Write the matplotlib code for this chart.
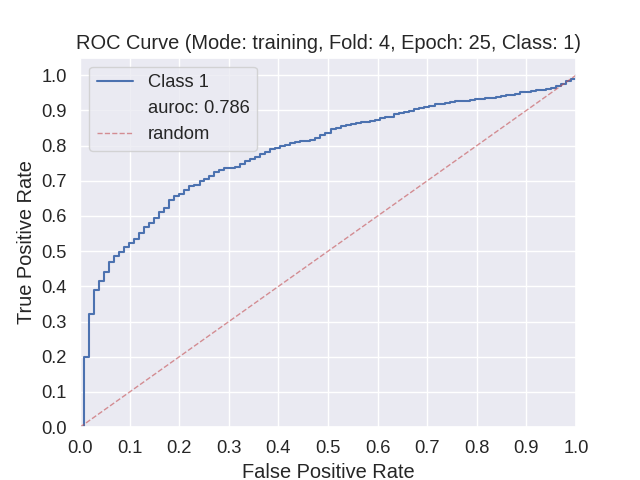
import matplotlib
matplotlib.use('Agg')
import matplotlib.pyplot as plt
import numpy as np
import seaborn as sns

sns.set_theme(style='darkgrid', color_codes=True, font_scale=1.2)
plt.rcParams['font.family'] = ['Liberation Sans', 'DejaVu Sans']

# ROC points (tpr jumps to value at each fpr)
fpr = [0.0, 0.0075, 0.018, 0.028, 0.038, 0.049, 0.059, 0.069, 0.079, 0.089, 0.099,
       0.109, 0.119, 0.130, 0.140, 0.150, 0.160, 0.170, 0.180, 0.190, 0.200,
       0.210, 0.220, 0.230, 0.241, 0.251, 0.261, 0.271, 0.281, 0.291, 0.312,
       0.322, 0.332, 0.342, 0.352, 0.362, 0.372, 0.383, 0.393, 0.403, 0.413,
       0.423, 0.433, 0.443, 0.464, 0.474, 0.484, 0.494, 0.507, 0.517, 0.527,
       0.537, 0.547, 0.557, 0.567, 0.584, 0.594, 0.604, 0.614, 0.624, 0.634,
       0.644, 0.654, 0.664, 0.674, 0.684, 0.694, 0.704, 0.715, 0.735, 0.745,
       0.757, 0.787, 0.797, 0.817, 0.838, 0.848, 0.858, 0.878, 0.888, 0.909,
       0.919, 0.939, 0.949, 0.959, 0.969, 0.979, 0.989, 1.0]
tpr = [0.0, 0.200, 0.321, 0.391, 0.416, 0.441, 0.470, 0.486, 0.498, 0.512, 0.524,
       0.535, 0.552, 0.569, 0.580, 0.595, 0.612, 0.623, 0.645, 0.657, 0.662,
       0.673, 0.686, 0.688, 0.699, 0.706, 0.713, 0.725, 0.730, 0.735, 0.739,
       0.749, 0.756, 0.763, 0.768, 0.777, 0.782, 0.789, 0.794, 0.798, 0.801,
       0.806, 0.809, 0.812, 0.817, 0.822, 0.830, 0.836, 0.846, 0.851, 0.855,
       0.858, 0.861, 0.863, 0.866, 0.870, 0.874, 0.877, 0.880, 0.882, 0.889,
       0.893, 0.896, 0.899, 0.903, 0.906, 0.910, 0.913, 0.918, 0.921, 0.924,
       0.926, 0.930, 0.932, 0.935, 0.937, 0.941, 0.945, 0.947, 0.951, 0.954,
       0.957, 0.960, 0.963, 0.969, 0.976, 0.984, 0.990, 1.0]
auroc = 0.786

fig, ax = plt.subplots(figsize=(6.4, 4.8), dpi=100)
ax.step(fpr, tpr, where='post', color='b', linewidth=1.5, label='Class 1')
ax.plot([], [], ' ', label=f'auroc: {auroc:.3f}')
ax.plot([0, 1], [0, 1], 'r--', linewidth=1, alpha=0.6, label='random')

ax.set_xlim(0, 1)
ax.set_ylim(0, 1.05)
ax.set_xticks(np.arange(0, 1.01, 0.1))
ax.set_yticks(np.arange(0, 1.01, 0.1))
ax.set_xlabel('False Positive Rate')
ax.set_ylabel('True Positive Rate')
ax.set_title('ROC Curve (Mode: training, Fold: 4, Epoch: 25, Class: 1)')
ax.legend(loc='upper left')

plt.savefig('out.png')
